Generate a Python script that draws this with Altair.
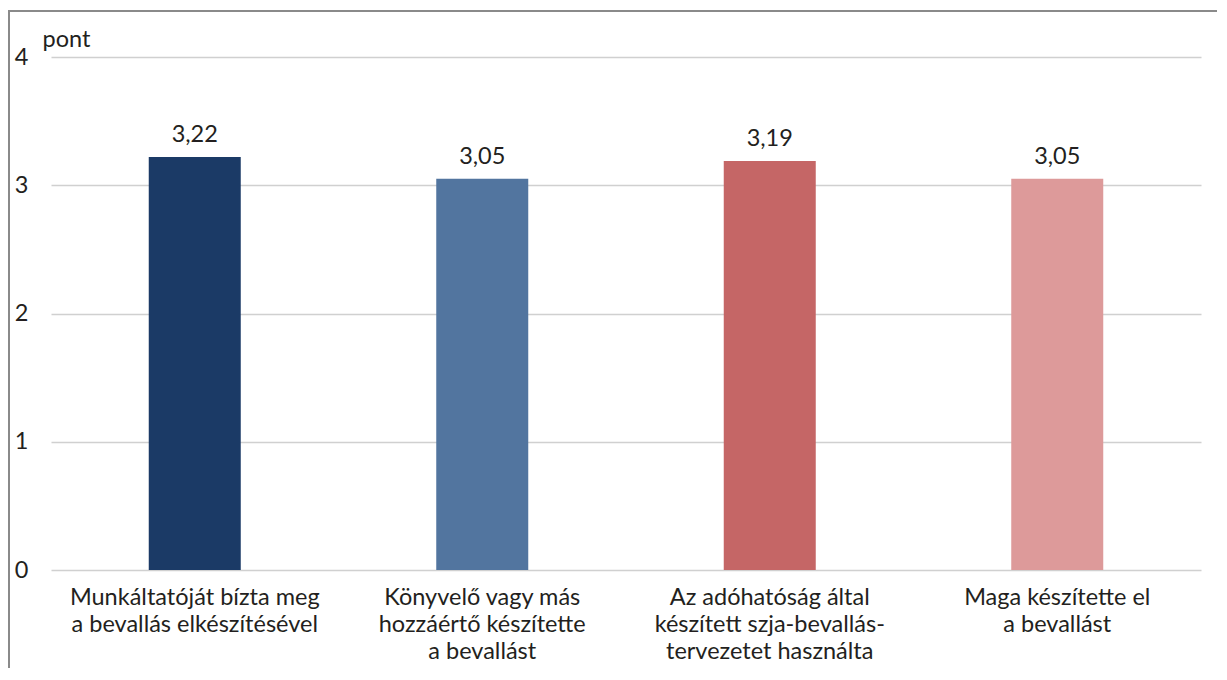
import altair as alt
import pandas as pd

categories = [
    "Munkáltatóját bízta meg|a bevallás elkészítésével",
    "Könyvelő vagy más|hozzáértő készítette|a bevallást",
    "Az adóhatóság által|készített szja-bevallás-|tervezetet használta",
    "Maga készítette el|a bevallást",
]
values = [3.22, 3.05, 3.19, 3.05]
colors = ["#1b3a66", "#52759f", "#c56666", "#dd9a9a"]
y_ticks = [0, 1, 2, 3, 4]

df = pd.DataFrame({"cat": categories, "value": values, "color": colors})

FONT = "Lato"
FS = 23.5
W, H = 1150, 513

base = alt.Chart(df)

x_enc = alt.X(
    "cat:N",
    sort=None,
    scale=alt.Scale(paddingInner=0.68, paddingOuter=0.34),
    axis=alt.Axis(
        title=None,
        labelAngle=0,
        labelExpr="split(datum.value, '|')",
        labelFont=FONT,
        labelFontSize=FS,
        labelLineHeight=27,
        labelColor="#231f20",
        labelBaseline="top",
        labelPadding=15,
        labelLimit=0,
        ticks=False,
        domain=False,
        grid=False,
    ),
)

y_enc = alt.Y(
    "value:Q",
    scale=alt.Scale(domain=[0, 4], nice=False),
    axis=alt.Axis(
        values=y_ticks,
        format="d",
        title="pont",
        titleAngle=0,
        titleAlign="left",
        titleBaseline="alphabetic",
        titleX=-9,
        titleY=-11,
        titleFont=FONT,
        titleFontSize=FS,
        titleFontWeight="normal",
        titleColor="#231f20",
        labelFont=FONT,
        labelFontSize=FS,
        labelColor="#231f20",
        labelPadding=23,
        labelBaseline="middle",
        grid=True,
        gridColor="#d0d0d0",
        gridWidth=1.5,
        ticks=False,
        domain=False,
    ),
)

bars = base.mark_bar().encode(
    x=x_enc,
    y=y_enc,
    color=alt.Color("color:N", scale=None),
)

labels = base.transform_calculate(
    lbl="replace(format(datum.value, '.2f'), '.', ',')"
).mark_text(
    font=FONT, fontSize=FS, color="#231f20", baseline="alphabetic", dy=-15
).encode(
    x=alt.X("cat:N", sort=None),
    y=alt.Y("value:Q"),
    text="lbl:N",
)

frame = alt.Chart(pd.DataFrame({"a": [0]})).mark_rect(
    fill=None, stroke="#8a8a8a", strokeWidth=2
).encode(
    x=alt.value(-42),
    x2=alt.value(W + 60),
    y=alt.value(-46),
    y2=alt.value(H + 200),
)

chart = (
    alt.layer(frame, bars, labels)
    .properties(
        width=W,
        height=H,
        autosize=alt.AutoSizeParams(type="none"),
        padding={"left": 43, "top": 49, "right": 16, "bottom": 98},
        view=alt.ViewBackground(stroke="transparent", strokeWidth=0),
    )
    .configure_view(stroke="transparent", strokeWidth=0)
    .configure(background="white")
)

chart.save("out.html", embed_options={"renderer": "svg", "actions": False})
